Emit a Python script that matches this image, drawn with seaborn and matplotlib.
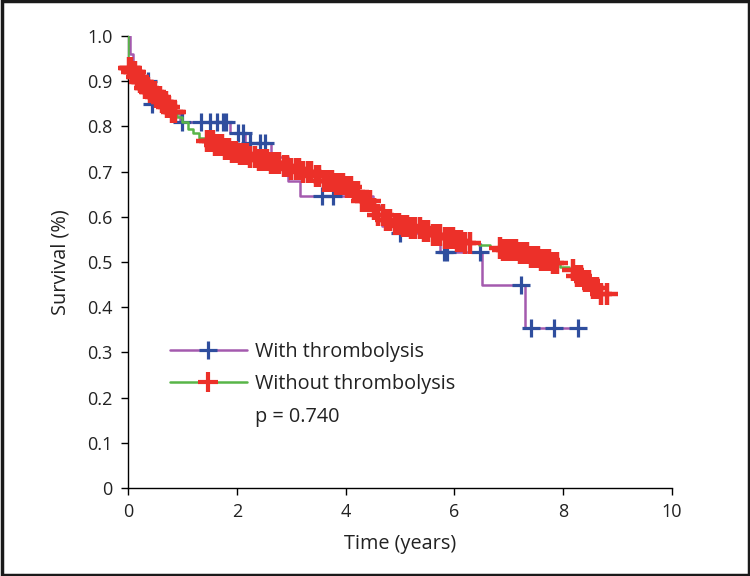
import numpy as np
import pandas as pd
import matplotlib
matplotlib.use("Agg")
import matplotlib.pyplot as plt
import seaborn as sns
from matplotlib.lines import Line2D
from matplotlib.patches import Rectangle

# ---- data ----
# With thrombolysis: step times and survival after each step
with_t = [0.0, 0.03, 0.10, 0.20, 0.42, 0.70, 0.95, 1.88, 2.15, 2.63, 2.95, 3.16, 4.50, 4.66, 4.95, 5.74, 6.50, 7.30]
with_s = [1.0, 0.96, 0.93, 0.90, 0.85, 0.83, 0.81, 0.785, 0.763, 0.733, 0.68, 0.645, 0.625, 0.58, 0.565, 0.522, 0.45, 0.355]
with_end = 8.28
with_cens = [0.37, 0.45, 0.99, 1.35, 1.51, 1.63, 1.75, 1.80, 2.03, 2.11, 2.24, 2.43, 2.52,
             3.56, 3.77, 5.00, 5.80, 5.86, 6.47, 7.22, 7.40, 7.84, 8.28]

# Without thrombolysis
wo_t = [0.0, 0.005, 0.012, 0.08, 0.15, 0.22, 0.30, 0.40, 0.50, 0.60, 0.70, 0.80, 0.90, 1.00, 1.10, 1.20,
        1.30, 1.45, 1.60, 1.75, 1.90, 2.05, 2.20, 2.40, 2.60, 2.80, 3.00, 3.20, 3.40, 3.60, 3.80,
        4.00, 4.15, 4.30, 4.45, 4.60, 4.75, 4.90, 5.05, 5.20, 5.40, 5.60, 5.80, 6.00, 6.20, 6.45,
        6.65, 6.90, 7.15, 7.35, 7.55, 7.75, 7.95, 8.10, 8.25, 8.40, 8.55, 8.70]
wo_s = [1.0, 0.95, 0.93, 0.92, 0.91, 0.898, 0.885, 0.876, 0.865, 0.854, 0.843, 0.832, 0.82, 0.81, 0.795, 0.785,
        0.775, 0.768, 0.758, 0.75, 0.744, 0.738, 0.733, 0.726, 0.718, 0.712, 0.706, 0.70, 0.69, 0.68, 0.672,
        0.665, 0.655, 0.635, 0.618, 0.603, 0.592, 0.585, 0.58, 0.575, 0.568, 0.56, 0.553, 0.547, 0.543, 0.538,
        0.532, 0.526, 0.52, 0.512, 0.505, 0.497, 0.49, 0.482, 0.47, 0.457, 0.443, 0.43]
wo_end = 8.80
wo_cens = [0.02, 0.04, 0.06, 0.08, 0.11, 0.13, 0.16, 0.19, 0.22, 0.25, 0.28, 0.31, 0.34, 0.37,
           0.40, 0.43, 0.46, 0.49, 0.52, 0.55, 0.58, 0.62, 0.65, 0.69, 0.72, 0.76, 0.80, 0.84, 0.87,
           1.45, 1.50, 1.56, 1.60, 1.66, 1.72, 1.78, 1.85, 1.92, 1.98, 2.05, 2.12, 2.18, 2.25, 2.33,
           2.40, 2.48, 2.55, 2.62, 2.70, 2.78, 2.86, 2.93, 3.00, 3.08, 3.15, 3.22, 3.30, 3.37, 3.45,
           3.52, 3.60, 3.67, 3.75, 3.82, 3.90, 3.96, 4.03, 4.10, 4.16, 4.23, 4.30, 4.37, 4.44, 4.52,
           4.60, 4.68, 4.75, 4.82, 4.90, 4.98, 5.05, 5.12, 5.20, 5.28, 5.36, 5.44, 5.52, 5.60, 5.67,
           5.74, 5.82, 5.90, 5.98, 6.05, 6.12, 6.20, 6.28,
           6.84, 6.90, 6.96, 7.02, 7.08, 7.14, 7.20, 7.26, 7.33, 7.40, 7.46, 7.53, 7.60, 7.67, 7.74,
           7.81, 7.88, 8.18, 8.26, 8.33, 8.40, 8.47, 8.55, 8.62, 8.70, 8.80]

group_labels = ["With thrombolysis", "Without thrombolysis"]
p_text = "p = 0.740"
x_ticks = [0, 2, 4, 6, 8, 10]
y_ticks = [0, 0.1, 0.2, 0.3, 0.4, 0.5, 0.6, 0.7, 0.8, 0.9, 1.0]
y_tick_labels = ["0", "0.1", "0.2", "0.3", "0.4", "0.5", "0.6", "0.7", "0.8", "0.9", "1.0"]


def step_frame(t, s, end):
    return pd.DataFrame({"t": list(t) + [end], "s": list(s) + [s[-1]]})


def censor_frame(t, s, c):
    idx = np.searchsorted(np.asarray(t), np.asarray(c), side="right") - 1
    return pd.DataFrame({"t": c, "s": np.asarray(s)[idx]})


PURPLE = "#A45AAE"
BLUE = "#2F4E9E"
GREEN = "#58B548"
RED = "#EC3029"
TXT = "#222222"

sns.set_style("ticks")
plt.rcParams["font.family"] = ["Open Sans", "DejaVu Sans"]

fig = plt.figure(figsize=(7.5, 5.76), dpi=100)
ax = fig.add_axes([128 / 750, 1 - 488 / 576, 544 / 750, 452 / 576])

sns.lineplot(data=step_frame(with_t, with_s, with_end), x="t", y="s", drawstyle="steps-post",
             estimator=None, sort=False, color=PURPLE, lw=1.8, ax=ax, zorder=2)
sns.scatterplot(data=censor_frame(with_t, with_s, with_cens), x="t", y="s", marker="+",
                s=160, linewidth=2.3, color=BLUE, ax=ax, zorder=3, clip_on=False)
sns.lineplot(data=step_frame(wo_t, wo_s, wo_end), x="t", y="s", drawstyle="steps-post",
             estimator=None, sort=False, color=GREEN, lw=1.8, ax=ax, zorder=4)
sns.scatterplot(data=censor_frame(wo_t, wo_s, wo_cens), x="t", y="s", marker="+",
                s=240, linewidth=3.2, color=RED, ax=ax, zorder=5, clip_on=False)

ax.set_xlim(0, 10)
ax.set_ylim(0, 1)
ax.set_xticks(x_ticks)
ax.set_xticklabels([str(v) for v in x_ticks])
ax.set_yticks(y_ticks)
ax.set_yticklabels(y_tick_labels)
ax.tick_params(direction="out", length=5, width=1, color="black", labelsize=13,
               labelcolor=TXT, pad=6)
for side in ["top", "right"]:
    ax.spines[side].set_visible(False)
for side in ["left", "bottom"]:
    ax.spines[side].set_color("black")
    ax.spines[side].set_linewidth(1.0)
ax.set_xlabel("Time (years)", fontsize=14.3, color=TXT, labelpad=9)
ax.set_ylabel("Survival (%)", fontsize=14.3, color=TXT, labelpad=12)

handles = [
    Line2D([], [], color=PURPLE, lw=1.8, marker="+", markersize=13, markeredgewidth=2.3,
           markeredgecolor=BLUE),
    Line2D([], [], color=GREEN, lw=1.8, marker="+", markersize=14, markeredgewidth=3.0,
           markeredgecolor=RED),
    Line2D([], [], color="none"),
]
leg = ax.legend(handles, group_labels + [p_text], loc="upper left",
                bbox_to_anchor=(170 / 750, 1 - 342 / 576), bbox_transform=fig.transFigure,
                frameon=False, fontsize=14.3, handlelength=3.87, handletextpad=0.4,
                borderpad=0, borderaxespad=0, labelspacing=0.62, numpoints=1,
                labelcolor=TXT)

fig.add_artist(Rectangle((0.002, 0.002), 0.996, 0.996, transform=fig.transFigure,
                         fill=False, lw=2.5, ec="#1a1a1a"))

fig.savefig("out.png", dpi=100)
